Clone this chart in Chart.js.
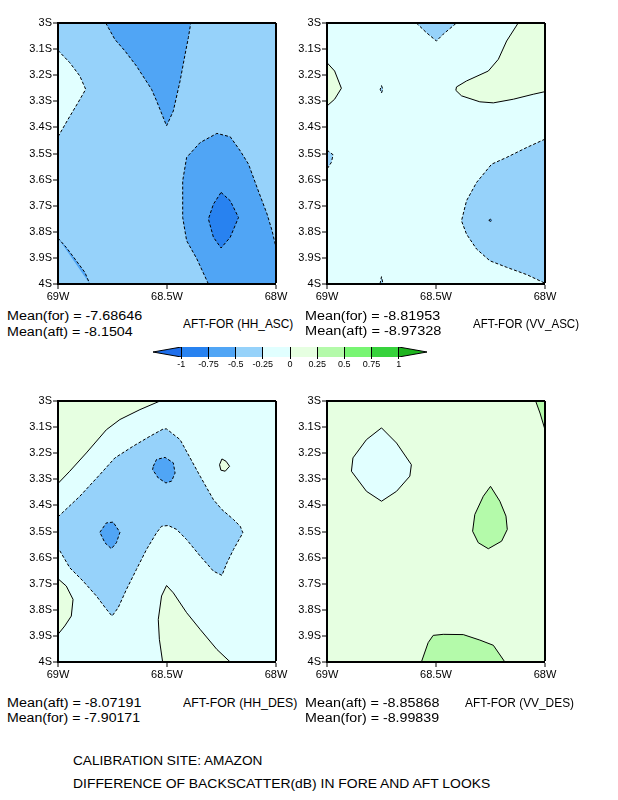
<!DOCTYPE html>
<html lang="en">

<head>
    <meta charset="UTF-8">
    <title>Difference of backscatter - Amazon</title>
    <script src="https://cdn.jsdelivr.net/npm/chart.js"></script>
    <style>
        body {
            margin: 0;
            width: 618px;
            height: 800px;
            position: relative;
            overflow: hidden;
            background: #fff;
            font-family: 'Liberation Sans', Arial, sans-serif;
        }

        canvas {
            position: absolute;
        }

        .txt {
            position: absolute;
            line-height: 14px;
            white-space: pre;
            color: #000;
            transform-origin: 0 50%;
        }
    </style>
</head>

<body>
    <canvas id="hhAsc" width="288" height="292" style="left:0;top:13px"></canvas>
    <canvas id="vvAsc" width="288" height="292" style="left:269px;top:13px"></canvas>
    <canvas id="hhDes" width="288" height="292" style="left:0;top:391px"></canvas>
    <canvas id="vvDes" width="288" height="292" style="left:269px;top:391px"></canvas>
    <canvas id="colorbar" width="294" height="30" style="left:143px;top:342px"></canvas>

    <script>
        // contour levels and axis ticks
        const levels = [-1, -0.75, -0.5, -0.25, 0, 0.25, 0.5, 0.75, 1];
        const lonTicks = [-69, -68.5, -68];
        const latTicks = [-4, -3.9, -3.8, -3.7, -3.6, -3.5, -3.4, -3.3, -3.2, -3.1, -3];
        const barRange = [-1.26, 1.26];

        const panelNames = ['HH_ASC', 'VV_ASC', 'HH_DES', 'VV_DES'];
        const meanFor = [-7.68646, -8.81953, -7.90171, -8.99839];
        const meanAft = [-8.1504, -8.97328, -8.07191, -8.85868];

        // regions as [lon, lat] (W and S negative); band = lower bound of the shaded class
        // HH ascending
        const hhAscTop = [[-68.781, -3], [-68.739, -3.063], [-68.693, -3.107], [-68.640, -3.165], [-68.571, -3.254], [-68.548, -3.298], [-68.502, -3.394], [-68.471, -3.337], [-68.440, -3.222], [-68.417, -3.120], [-68.402, -3.056], [-68.391, -3]];
        const hhAscWest = [[-69, -3.105], [-68.946, -3.152], [-68.900, -3.203], [-68.873, -3.254], [-68.908, -3.305], [-68.954, -3.369], [-69, -3.436]];
        const hhAscCorner = [[-69, -3.824], [-68.962, -3.860], [-68.916, -3.911], [-68.877, -3.955], [-68.854, -4]];
        const hhAscEast = [[-68.310, -4], [-68.363, -3.904], [-68.410, -3.834], [-68.428, -3.745], [-68.428, -3.605], [-68.410, -3.515], [-68.348, -3.458], [-68.271, -3.423], [-68.210, -3.436], [-68.164, -3.490], [-68.126, -3.541], [-68.087, -3.630], [-68.041, -3.732], [-68.018, -3.796], [-68, -3.860], [-68, -4]];
        const hhAscCore = [[-68.252, -3.649], [-68.210, -3.681], [-68.172, -3.745], [-68.210, -3.821], [-68.252, -3.862], [-68.287, -3.821], [-68.310, -3.751], [-68.287, -3.694]];

        // VV ascending
        const vvAscTop = [[-68.590, -3], [-68.544, -3.037], [-68.498, -3.069], [-68.467, -3.043], [-68.406, -3]];
        const vvAscNorthEast = [[-68.123, -3], [-68.176, -3.069], [-68.214, -3.139], [-68.260, -3.184], [-68.360, -3.222], [-68.406, -3.245], [-68.409, -3.258], [-68.383, -3.279], [-68.299, -3.302], [-68.237, -3.306], [-68.145, -3.292], [-68.054, -3.273], [-68, -3.263], [-68, -3]];
        const vvAscWest = [[-69, -3.152], [-68.965, -3.184], [-68.934, -3.250], [-68.965, -3.292], [-69, -3.318]];
        const vvAscWestDip = [[-69, -3.487], [-68.972, -3.505], [-68.980, -3.534], [-69, -3.560]];
        const vvAscSouthEast = [[-68, -3.445], [-68.084, -3.477], [-68.176, -3.515], [-68.245, -3.541], [-68.314, -3.611], [-68.360, -3.681], [-68.383, -3.758], [-68.360, -3.809], [-68.314, -3.866], [-68.253, -3.911], [-68.176, -3.936], [-68.084, -3.964], [-68, -3.997], [-68, -4]];
        const vvAscDot1 = [[-68.75, -3.240], [-68.744, -3.254], [-68.75, -3.268], [-68.756, -3.254]];
        const vvAscDot2 = [[-68.757, -4], [-68.750, -3.972], [-68.743, -4]];
        const vvAscDot3 = [[-68.258, -3.756], [-68.25, -3.752], [-68.242, -3.756], [-68.25, -3.760]];

        // HH descending
        const hhDesNorthWest = [[-69, -3.316], [-68.946, -3.269], [-68.870, -3.199], [-68.778, -3.110], [-68.716, -3.071], [-68.624, -3.033], [-68.532, -3], [-69, -3]];
        const hhDesArm = [[-69, -3.444], [-68.900, -3.365], [-68.808, -3.282], [-68.739, -3.218], [-68.655, -3.173], [-68.578, -3.135], [-68.517, -3.107], [-68.502, -3.107], [-68.440, -3.148], [-68.394, -3.218], [-68.348, -3.288], [-68.287, -3.378], [-68.248, -3.416], [-68.195, -3.454], [-68.164, -3.480], [-68.152, -3.505], [-68.195, -3.569], [-68.225, -3.620], [-68.248, -3.668], [-68.287, -3.652], [-68.348, -3.594], [-68.410, -3.531], [-68.456, -3.492], [-68.494, -3.477], [-68.525, -3.480], [-68.548, -3.505], [-68.594, -3.569], [-68.640, -3.645], [-68.686, -3.722], [-68.724, -3.792], [-68.752, -3.824], [-68.778, -3.798], [-68.824, -3.747], [-68.885, -3.690], [-68.946, -3.639], [-69, -3.562]];
        const hhDesSpot1 = [[-68.563, -3.250], [-68.548, -3.224], [-68.509, -3.216], [-68.471, -3.237], [-68.463, -3.276], [-68.479, -3.307], [-68.505, -3.314], [-68.540, -3.295], [-68.566, -3.263]];
        const hhDesSpot2 = [[-68.808, -3.503], [-68.778, -3.467], [-68.747, -3.464], [-68.716, -3.503], [-68.732, -3.543], [-68.755, -3.566], [-68.785, -3.543]];
        const hhDesIsle = [[-68.259, -3.244], [-68.248, -3.222], [-68.229, -3.231], [-68.213, -3.250], [-68.233, -3.269], [-68.253, -3.265]];
        const hhDesWest = [[-69, -3.681], [-68.962, -3.709], [-68.931, -3.760], [-68.939, -3.824], [-68.969, -3.862], [-69, -3.894]];
        const hhDesSouth = [[-68.520, -4], [-68.535, -3.913], [-68.540, -3.837], [-68.525, -3.747], [-68.502, -3.707], [-68.471, -3.735], [-68.410, -3.811], [-68.348, -3.875], [-68.271, -3.952], [-68.210, -4]];

        // VV descending
        const vvDesDiamond = [[-68.750, -3.103], [-68.681, -3.161], [-68.613, -3.244], [-68.620, -3.288], [-68.681, -3.346], [-68.750, -3.384], [-68.819, -3.346], [-68.888, -3.269], [-68.881, -3.218], [-68.819, -3.148]];
        const vvDesDrop = [[-68.250, -3.327], [-68.207, -3.384], [-68.179, -3.441], [-68.173, -3.492], [-68.199, -3.537], [-68.260, -3.566], [-68.306, -3.543], [-68.332, -3.499], [-68.322, -3.435], [-68.283, -3.365]];
        const vvDesSouth = [[-68.567, -4], [-68.536, -3.926], [-68.513, -3.898], [-68.467, -3.894], [-68.375, -3.895], [-68.299, -3.916], [-68.237, -3.936], [-68.184, -4]];
        const vvDesCorner = [[-68.043, -3], [-68.023, -3.046], [-68, -3.110], [-68, -3]];

        // shading colours: below -1, each class, above 1
        const bandColors = ['#1e6eeb', '#2882f0', '#50a5f5', '#96d2fa', '#e1ffff',
            '#e6ffe1', '#b4faaa', '#78f573', '#37d23c', '#1eb41e'];

        function bandColor(lo) {
            return bandColors[levels.indexOf(lo) + 1];
        }

        Chart.defaults.color = '#000';
        Chart.defaults.font.family = "'Liberation Sans', Arial, sans-serif";

        const onFrame = p => p[0] === -69 || p[0] === -68 || p[1] === -3 || p[1] === -4;
        const isCorner = p => (p[0] === -69 || p[0] === -68) && (p[1] === -3 || p[1] === -4);
        const toXY = pts => pts.map(p => ({ x: p[0], y: p[1] }));

        function createMap(elementId, base, regions) {
            const frame = [[-69, -3], [-68, -3], [-68, -4], [-69, -4]];
            const fills = [{ pts: frame, band: base }].concat(regions).map(r => ({
                data: toXY(r.pts),
                showLine: true,
                fill: 'shape',
                backgroundColor: bandColor(r.band),
                borderWidth: 0,
                pointRadius: 0
            }));
            const lines = regions.map(r => {
                let pts = r.pts.filter(p => !isCorner(p));
                if (!r.pts.some(onFrame)) pts = pts.concat([pts[0]]);
                return {
                    data: toXY(pts),
                    showLine: true,
                    fill: false,
                    borderColor: '#000',
                    borderWidth: 1,
                    borderDash: r.level < 0 ? [3, 2] : [],
                    pointRadius: 0
                };
            });
            const datasets = fills.concat(lines).map((d, i) => Object.assign(d, { order: -i }));

            return new Chart(document.getElementById(elementId), {
                type: 'scatter',
                data: { datasets: datasets },
                options: {
                    responsive: false,
                    animation: false,
                    events: [],
                    layout: { padding: { top: 10, right: 12, bottom: 3, left: 0 } },
                    plugins: { legend: { display: false }, tooltip: { enabled: false } },
                    scales: {
                        x: {
                            type: 'linear', min: -69, max: -68,
                            afterBuildTicks: s => { s.ticks = lonTicks.map(v => ({ value: v })); },
                            afterFit: s => { s.height = 18; s.paddingLeft = 0; s.paddingRight = 0; },
                            ticks: { callback: v => (-v) + 'W', font: { size: 11 }, padding: 1, maxRotation: 0, autoSkip: false },
                            grid: {
                                z: 1, color: '#000',
                                lineWidth: c => (c.tick && c.tick.value === -68 ? 2 : 0),
                                tickLength: 5, tickWidth: 1, tickColor: '#000'
                            },
                            border: { z: 1, color: '#000', width: 2 }
                        },
                        y: {
                            type: 'linear', min: -4, max: -3,
                            afterBuildTicks: s => { s.ticks = latTicks.map(v => ({ value: v })); },
                            afterFit: s => { s.width = 58; s.paddingTop = 0; s.paddingBottom = 0; },
                            ticks: { callback: v => (-v) + 'S', font: { size: 11 }, padding: 1, autoSkip: false },
                            grid: {
                                z: 1, color: '#000',
                                lineWidth: c => (c.tick && c.tick.value === -3 ? 2 : 0),
                                tickLength: 5, tickWidth: 1, tickColor: '#000'
                            },
                            border: { z: 1, color: '#000', width: 2 }
                        }
                    }
                }
            });
        }

        createMap('hhAsc', -0.5, [
            { pts: hhAscTop, band: -0.75, level: -0.5 },
            { pts: hhAscWest, band: -0.25, level: -0.25 },
            { pts: hhAscCorner, band: -0.75, level: -0.5 },
            { pts: hhAscEast, band: -0.75, level: -0.5 },
            { pts: hhAscCore, band: -1, level: -0.75 }
        ]);
        createMap('vvAsc', -0.25, [
            { pts: vvAscTop, band: -0.5, level: -0.25 },
            { pts: vvAscNorthEast, band: 0, level: 0 },
            { pts: vvAscWest, band: 0, level: 0 },
            { pts: vvAscWestDip, band: -0.5, level: -0.25 },
            { pts: vvAscSouthEast, band: -0.5, level: -0.25 },
            { pts: vvAscDot1, band: -0.5, level: -0.25 },
            { pts: vvAscDot2, band: -0.5, level: -0.25 },
            { pts: vvAscDot3, band: -0.75, level: -0.5 }
        ]);
        createMap('hhDes', -0.25, [
            { pts: hhDesNorthWest, band: 0, level: 0 },
            { pts: hhDesArm, band: -0.5, level: -0.25 },
            { pts: hhDesSpot1, band: -0.75, level: -0.5 },
            { pts: hhDesSpot2, band: -0.75, level: -0.5 },
            { pts: hhDesIsle, band: 0, level: 0 },
            { pts: hhDesWest, band: 0, level: 0 },
            { pts: hhDesSouth, band: 0, level: 0 }
        ]);
        createMap('vvDes', 0, [
            { pts: vvDesDiamond, band: -0.25, level: 0 },
            { pts: vvDesDrop, band: 0.25, level: 0.25 },
            { pts: vvDesSouth, band: 0.25, level: 0.25 },
            { pts: vvDesCorner, band: 0.25, level: 0.25 }
        ]);

        // colour bar: one cell per class, triangles for the open ends
        const barSets = levels.slice(0, -1).map((lo, i) => ({
            data: toXY([[lo, 0], [levels[i + 1], 0], [levels[i + 1], 1], [lo, 1]]),
            showLine: true, fill: 'shape', backgroundColor: bandColor(lo),
            borderWidth: 0, pointRadius: 0
        }));
        barSets.push({
            data: toXY([[levels[0], 0], [barRange[0], 0.5], [levels[0], 1]]),
            showLine: true, fill: 'shape', backgroundColor: bandColors[0],
            borderColor: '#000', borderWidth: 1, pointRadius: 0
        });
        barSets.push({
            data: toXY([[levels[levels.length - 1], 0], [barRange[1], 0.5], [levels[levels.length - 1], 1]]),
            showLine: true, fill: 'shape', backgroundColor: bandColors[bandColors.length - 1],
            borderColor: '#000', borderWidth: 1, pointRadius: 0
        });

        new Chart(document.getElementById('colorbar'), {
            type: 'scatter',
            data: { datasets: barSets },
            options: {
                responsive: false,
                animation: false,
                events: [],
                layout: { padding: { top: 5, right: 10, bottom: 0, left: 10 } },
                plugins: { legend: { display: false }, tooltip: { enabled: false } },
                scales: {
                    x: {
                        type: 'linear', min: barRange[0], max: barRange[1],
                        afterBuildTicks: s => { s.ticks = levels.map(v => ({ value: v })); },
                        afterFit: s => { s.height = 15; s.paddingLeft = 0; s.paddingRight = 0; },
                        ticks: { callback: v => String(v), font: { size: 9 }, padding: 0, maxRotation: 0, autoSkip: false },
                        grid: { z: 1, color: '#000', lineWidth: 1, tickLength: 2, tickColor: '#000' },
                        border: { display: false }
                    },
                    y: { display: false, min: 0, max: 1 }
                }
            }
        });

        // text blocks, stretched to the width of the original lettering
        function place(text, left, mid, width, size) {
            const d = document.createElement('div');
            d.className = 'txt';
            d.textContent = text;
            d.style.fontSize = (size || 12) + 'px';
            d.style.left = left + 'px';
            d.style.top = (mid - 7) + 'px';
            document.body.appendChild(d);
            d.style.transform = 'scaleX(' + (width / d.offsetWidth).toFixed(3) + ')';
        }

        place('Mean(for) = ' + meanFor[0], 7, 316, 135);
        place('Mean(aft) = ' + meanAft[0], 7, 331.5, 126);
        place('AFT-FOR (' + panelNames[0] + ')', 183, 323.5, 110);
        place('Mean(for) = ' + meanFor[1], 305, 315.5, 135);
        place('Mean(aft) = ' + meanAft[1], 305, 330.5, 136);
        place('AFT-FOR (' + panelNames[1] + ')', 473, 323.5, 106);
        place('Mean(aft) = ' + meanAft[2], 7, 703, 134);
        place('Mean(for) = ' + meanFor[2], 7, 718, 133);
        place('AFT-FOR (' + panelNames[2] + ')', 183, 703, 114);
        place('Mean(aft) = ' + meanAft[3], 305, 703, 134);
        place('Mean(for) = ' + meanFor[3], 305, 717.5, 134);
        place('AFT-FOR (' + panelNames[3] + ')', 465, 703, 109);
        place('CALIBRATION SITE: AMAZON', 73, 761, 189, 13);
        place('DIFFERENCE OF BACKSCATTER(dB) IN FORE AND AFT LOOKS', 73, 783.5, 417, 13);
    </script>
</body>

</html>
